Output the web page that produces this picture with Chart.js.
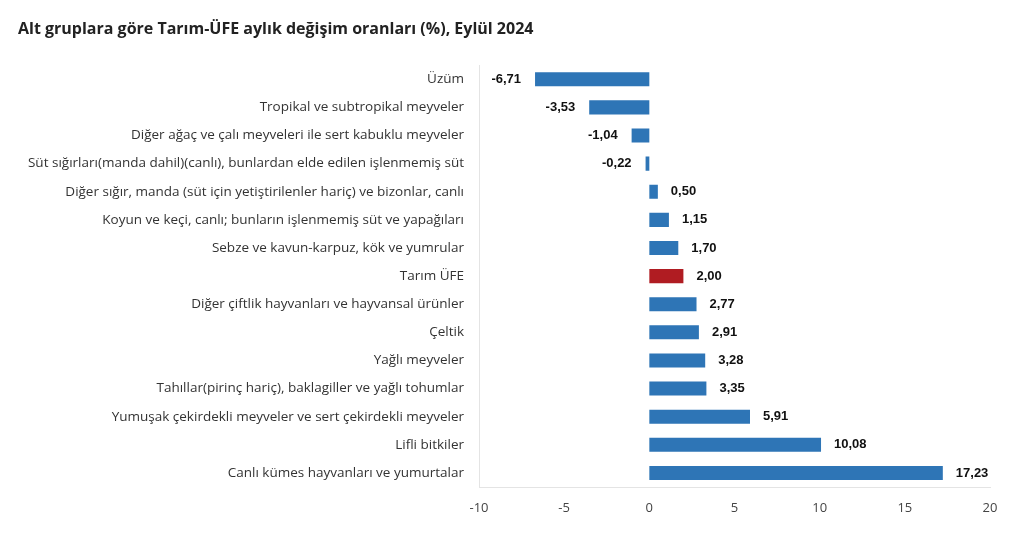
<!DOCTYPE html>
<html><head><meta charset="utf-8">
<script src="https://cdn.jsdelivr.net/npm/chart.js@4"></script>
<style>html,body{margin:0;padding:0;background:#fff}#w{width:1024px;height:557px}</style>
</head><body><div id="w"><canvas id="c"></canvas></div>
<script>
const categories = [
  "Üzüm",
  "Tropikal ve subtropikal meyveler",
  "Diğer ağaç ve çalı meyveleri ile sert kabuklu meyveler",
  "Süt sığırları(manda dahil)(canlı), bunlardan elde edilen işlenmemiş süt",
  "Diğer sığır, manda (süt için yetiştirilenler hariç) ve bizonlar, canlı",
  "Koyun ve keçi, canlı; bunların işlenmemiş süt ve yapağıları",
  "Sebze ve kavun-karpuz, kök ve yumrular",
  "Tarım ÜFE",
  "Diğer çiftlik hayvanları ve hayvansal ürünler",
  "Çeltik",
  "Yağlı meyveler",
  "Tahıllar(pirinç hariç), baklagiller ve yağlı tohumlar",
  "Yumuşak çekirdekli meyveler ve sert çekirdekli meyveler",
  "Lifli bitkiler",
  "Canlı kümes hayvanları ve yumurtalar"
];
const values = [-6.71, -3.53, -1.04, -0.22, 0.50, 1.15, 1.70, 2.00, 2.77, 2.91, 3.28, 3.35, 5.91, 10.08, 17.23];
const highlight = "Tarım ÜFE";
const xTicks = [-10, -5, 0, 5, 10, 15, 20];

const BLUE = "#2e75b6", RED = "#b01c22";
const colors = categories.map(c => c === highlight ? RED : BLUE);

const labelPlugin = {
  id: "vlabels",
  afterDatasetsDraw(chart) {
    const ctx = chart.ctx;
    const meta = chart.getDatasetMeta(0);
    ctx.save();
    ctx.font = "bold 13px 'Liberation Sans', Arial, sans-serif";
    ctx.fillStyle = "#111";
    ctx.textBaseline = "middle";
    meta.data.forEach((bar, i) => {
      const v = values[i];
      const t = v.toFixed(2).replace(".", ",");
      if (v >= 0) { ctx.textAlign = "left"; ctx.fillText(t, bar.x + 13, bar.y); }
      else { ctx.textAlign = "right"; ctx.fillText(t, bar.x - 14, bar.y); }
    });
    ctx.restore();
  }
};

new Chart(document.getElementById("c"), {
  type: "bar",
  data: { labels: categories, datasets: [{ data: values, backgroundColor: colors, barPercentage: 0.5, categoryPercentage: 1.0 }] },
  options: {
    indexAxis: "y",
    responsive: true,
    maintainAspectRatio: false,
    animation: false,
    layout: { padding: { left: 18, right: 34, top: 0, bottom: 0 } },
    plugins: {
      legend: { display: false },
      tooltip: { enabled: false },
      title: {
        display: true,
        text: "Alt gruplara göre Tarım-ÜFE aylık değişim oranları (%), Eylül 2024",
        align: "start",
        color: "#222",
        font: { family: "'Open Sans', sans-serif", size: 16, weight: "bold" },
        padding: { top: 20, bottom: 26 }
      }
    },
    scales: {
      x: {
        min: -10, max: 20,
        afterBuildTicks(scale) { scale.ticks = xTicks.map(v => ({ value: v })); },
        afterFit(scale) { scale.height = 70; },
        grid: { display: false, drawTicks: false },
        border: { display: true, color: "#e4e4e4" },
        ticks: { color: "#444", font: { family: "'Open Sans', sans-serif", size: 13 }, padding: 13 }
      },
      y: {
        afterFit(scale) { scale.width = 461; },
        grid: { display: false, drawTicks: false },
        border: { display: true, color: "#e4e4e4" },
        ticks: { color: "#333", font: { family: "'Open Sans', sans-serif", size: 13.5 }, padding: 15 }
      }
    }
  },
  plugins: [labelPlugin]
});
</script></body></html>
